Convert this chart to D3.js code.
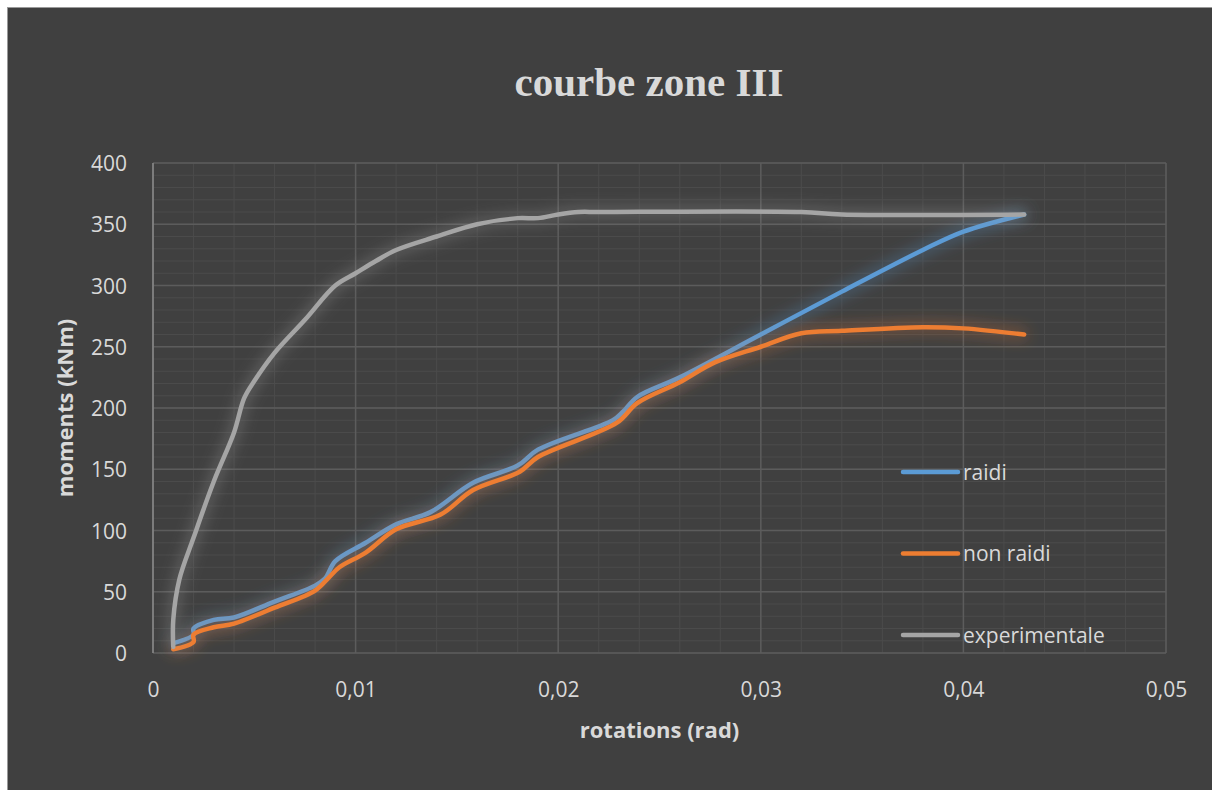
<!DOCTYPE html>
<html>
<head>
<meta charset="utf-8">
<script src="https://cdn.jsdelivr.net/npm/d3@7/dist/d3.min.js"></script>
<style>
  html, body { margin: 0; padding: 0; background: #ffffff; }
  svg { display: block; }
</style>
</head>
<body>
<div class="chart"></div>
<script>
// données
const chartTitle = 'courbe zone III'
const xTitle = 'rotations (rad)'
const yTitle = 'moments (kNm)'
const xTicks = [0, 0.01, 0.02, 0.03, 0.04, 0.05]
const yTicks = [0, 50, 100, 150, 200, 250, 300, 350, 400]
const seriesNames = ['raidi', 'non raidi', 'experimentale']

const rotRaidi = [0.001, 0.002, 0.002, 0.003, 0.004, 0.006, 0.008, 0.0085, 0.009, 0.0105, 0.012, 0.0137, 0.0158, 0.018, 0.019, 0.0227, 0.0232, 0.0239, 0.026, 0.030, 0.034, 0.038, 0.040, 0.043]
const momRaidi = [8, 15, 20, 27, 29, 42, 55, 61, 75, 90, 105, 115, 139, 153, 166, 190, 197, 209, 225, 260, 295, 329, 344, 358]

const rotNonRaidi = [0.001, 0.002, 0.002, 0.003, 0.004, 0.006, 0.008, 0.0087, 0.0092, 0.0105, 0.012, 0.0142, 0.0158, 0.0181, 0.019, 0.0229, 0.0239, 0.026, 0.0277, 0.030, 0.032, 0.034, 0.038, 0.040, 0.043]
const momNonRaidi = [3, 9, 15, 21, 24, 37, 51, 62, 70, 82, 101, 113, 133, 148, 160, 188, 204, 221, 237, 250, 261, 263, 266, 265, 260]

const rotExp = [0.001, 0.001, 0.0013, 0.002, 0.003, 0.004, 0.0045, 0.005, 0.006, 0.0075, 0.009, 0.010, 0.011, 0.012, 0.014, 0.016, 0.018, 0.019, 0.020, 0.021, 0.022, 0.032, 0.034, 0.043]
const momExp = [5, 27, 60, 94, 140, 180, 208, 222, 245, 272, 300, 310, 320, 329, 340, 350, 355, 355, 358, 360, 360, 360, 358, 358]

const colors = ['#5b9bd5', '#ed7d31', '#a5a5a5']

const W = 1212, H = 790
const plot = { left: 153, right: 1166, top: 163, bottom: 653 }
const textColor = '#d9d9d9'
const font = '"Open Sans", "DejaVu Sans", sans-serif'

const svg = d3.select('.chart')
    .append('svg')
    .attr('width', W)
    .attr('height', H)

// fond
svg.append('rect').attr('width', W).attr('height', H).attr('fill', '#ffffff')
svg.append('rect')
    .attr('x', 7.5).attr('y', 7.5)
    .attr('width', W + 20).attr('height', H + 20)
    .attr('fill', '#404040')
    .attr('stroke', '#9a9a9a')
    .attr('stroke-width', 1)

// filtres pour l'effet lumineux
const defs = svg.append('defs')
colors.forEach((c, i) => {
    const f = defs.append('filter')
        .attr('id', 'glow' + i)
        .attr('filterUnits', 'userSpaceOnUse')
        .attr('x', 0).attr('y', 0).attr('width', W).attr('height', H)
    f.append('feGaussianBlur')
        .attr('in', 'SourceGraphic')
        .attr('stdDeviation', 8)
        .attr('result', 'blur')
    f.append('feComponentTransfer')
        .attr('in', 'blur')
        .attr('result', 'soft')
        .append('feFuncA').attr('type', 'linear').attr('slope', 0.8)
    const m = f.append('feMerge')
    m.append('feMergeNode').attr('in', 'soft')
    m.append('feMergeNode').attr('in', 'SourceGraphic')
})

// échelles
const x = d3.scaleLinear().domain([0, 0.05]).range([plot.left, plot.right])
const y = d3.scaleLinear().domain([0, 400]).range([plot.bottom, plot.top])

const locale = d3.formatLocale({ decimal: ',', thousands: ' ', grouping: [3], currency: ['', '€'] })
const fmt = locale.format('~g')

// quadrillage secondaire
const grid = svg.append('g')
grid.selectAll('line.minor-x')
    .data(d3.range(0, 0.0501, 0.002))
    .enter().append('line')
    .attr('x1', d => x(d)).attr('x2', d => x(d))
    .attr('y1', plot.top).attr('y2', plot.bottom)
    .attr('stroke', '#4b4b4b').attr('stroke-width', 1)
grid.selectAll('line.minor-y')
    .data(d3.range(0, 401, 10))
    .enter().append('line')
    .attr('x1', plot.left).attr('x2', plot.right)
    .attr('y1', d => y(d)).attr('y2', d => y(d))
    .attr('stroke', '#4b4b4b').attr('stroke-width', 1)

// quadrillage principal
grid.selectAll('line.major-x')
    .data(xTicks)
    .enter().append('line')
    .attr('x1', d => x(d)).attr('x2', d => x(d))
    .attr('y1', plot.top).attr('y2', plot.bottom)
    .attr('stroke', '#5c5c5c').attr('stroke-width', 1.5)
grid.selectAll('line.major-y')
    .data(yTicks)
    .enter().append('line')
    .attr('x1', plot.left).attr('x2', plot.right)
    .attr('y1', d => y(d)).attr('y2', d => y(d))
    .attr('stroke', '#5c5c5c').attr('stroke-width', 1.5)

// axe vertical
svg.append('line')
    .attr('x1', plot.left).attr('x2', plot.left)
    .attr('y1', plot.top).attr('y2', plot.bottom)
    .attr('stroke', '#8a8a8a').attr('stroke-width', 1.5)

// étiquettes des axes
const xAxis = svg.append('g')
    .attr('transform', `translate(0, ${plot.bottom + 26})`)
    .call(d3.axisBottom(x).tickValues(xTicks).tickFormat(fmt).tickSize(0))
const yAxis = svg.append('g')
    .attr('transform', `translate(${plot.left - 26}, 0)`)
    .call(d3.axisLeft(y).tickValues(yTicks).tickSize(0))
;[xAxis, yAxis].forEach(a => {
    a.select('.domain').remove()
    a.selectAll('text')
        .attr('fill', textColor)
        .style('font-family', font)
        .style('font-size', '21px')
})
yAxis.selectAll('text').attr('x', 0).attr('dy', '0.36em')
xAxis.selectAll('text').attr('dy', '0.7em')

// courbes
const line = d3.line()
    .x(d => x(d[0]))
    .y(d => y(d[1]))
    .curve(d3.curveCatmullRom.alpha(0.5))

const series = [
    d3.zip(rotRaidi, momRaidi),
    d3.zip(rotNonRaidi, momNonRaidi),
    d3.zip(rotExp, momExp)
]

svg.append('g').selectAll('path')
    .data(series)
    .enter().append('path')
    .attr('d', line)
    .attr('fill', 'none')
    .attr('stroke', (d, i) => colors[i])
    .attr('stroke-width', 4.5)
    .attr('stroke-linecap', 'round')
    .attr('stroke-linejoin', 'round')
    .attr('filter', (d, i) => `url(#glow${i})`)

// légende
const legend = svg.append('g')
    .attr('transform', 'translate(903, 472)')
const items = legend.selectAll('g')
    .data(seriesNames)
    .enter().append('g')
    .attr('transform', (d, i) => `translate(0, ${i * 81.5})`)
items.append('line')
    .attr('x1', 0).attr('x2', 55)
    .attr('stroke', (d, i) => colors[i])
    .attr('stroke-width', 4.5)
    .attr('stroke-linecap', 'round')
items.append('text')
    .attr('x', 60)
    .attr('dy', '0.36em')
    .attr('fill', textColor)
    .style('font-family', font)
    .style('font-size', '21px')
    .text(d => d)

// titres
svg.append('text')
    .attr('x', 649)
    .attr('y', 96)
    .attr('text-anchor', 'middle')
    .attr('fill', textColor)
    .style('font-family', '"Liberation Serif", "DejaVu Serif", serif')
    .style('font-weight', 'bold')
    .style('font-size', '41px')
    .text(chartTitle)

svg.append('text')
    .attr('x', (plot.left + plot.right) / 2)
    .attr('y', 738)
    .attr('text-anchor', 'middle')
    .attr('fill', textColor)
    .style('font-family', font)
    .style('font-weight', 'bold')
    .style('font-size', '22px')
    .text(xTitle)

svg.append('text')
    .attr('transform', `translate(73, ${(plot.top + plot.bottom) / 2}) rotate(-90)`)
    .attr('text-anchor', 'middle')
    .attr('fill', textColor)
    .style('font-family', font)
    .style('font-weight', 'bold')
    .style('font-size', '22px')
    .text(yTitle)
</script>
</body>
</html>
